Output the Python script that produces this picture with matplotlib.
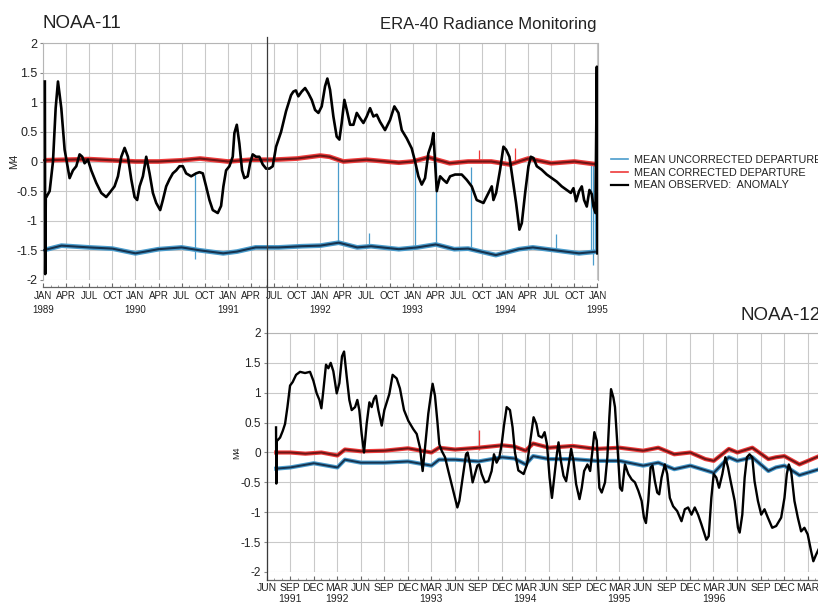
import numpy as np
import matplotlib
matplotlib.use('Agg')
import matplotlib.pyplot as plt
from matplotlib.lines import Line2D

plt.rcParams['font.family'] = ['Liberation Sans', 'DejaVu Sans']

# ---------------- NOAA-11 (top panel) ----------------
n11_anom_t = [1989.020, 1989.024, 1989.030, 1989.036, 1989.072, 1989.108, 1989.137, 1989.162, 1989.198, 1989.234,
              1989.288, 1989.324, 1989.360, 1989.396, 1989.425, 1989.450, 1989.486, 1989.522, 1989.576, 1989.630,
              1989.684, 1989.720, 1989.774, 1989.811, 1989.847, 1989.883, 1989.919, 1989.955, 1989.991, 1990.019,
              1990.045, 1990.081, 1990.117, 1990.153, 1990.189, 1990.225, 1990.268, 1990.297, 1990.333, 1990.369,
              1990.405, 1990.441, 1990.477, 1990.513, 1990.549, 1990.603, 1990.657, 1990.693, 1990.729, 1990.765,
              1990.801, 1990.837, 1990.891, 1990.927, 1990.952, 1990.981, 1991.017, 1991.053, 1991.071, 1991.097,
              1991.125, 1991.154, 1991.179, 1991.215, 1991.241, 1991.269, 1991.305, 1991.341, 1991.378, 1991.414,
              1991.450, 1991.486, 1991.522, 1991.576, 1991.630, 1991.684, 1991.709, 1991.736, 1991.763, 1991.799,
              1991.836, 1991.872, 1991.908, 1991.944, 1991.980, 1992.016, 1992.052, 1992.077, 1992.106, 1992.142,
              1992.178, 1992.207, 1992.232, 1992.261, 1992.287, 1992.323, 1992.359, 1992.395, 1992.431, 1992.467,
              1992.503, 1992.539, 1992.575, 1992.611, 1992.647, 1992.701, 1992.755, 1992.802, 1992.846, 1992.882,
              1992.936, 1992.990, 1993.026, 1993.062, 1993.098, 1993.134, 1993.170, 1993.206, 1993.224, 1993.261,
              1993.297, 1993.333, 1993.369, 1993.405, 1993.459, 1993.531, 1993.585, 1993.639, 1993.693, 1993.766,
              1993.820, 1993.856, 1993.874, 1993.903, 1993.946, 1993.982, 1994.011, 1994.047, 1994.083, 1994.119,
              1994.155, 1994.181, 1994.217, 1994.253, 1994.278, 1994.307, 1994.343, 1994.397, 1994.451, 1994.505,
              1994.559, 1994.613, 1994.667, 1994.711, 1994.740, 1994.768, 1994.801, 1994.830, 1994.855, 1994.884,
              1994.913, 1994.938, 1994.956, 1994.978, 1994.993, 1994.996, 1994.999]
n11_anom_v = [1.35, -1.90, -0.60, -0.60, -0.50, 0.00, 0.90, 1.35, 0.90, 0.20,
              -0.28, -0.15, -0.08, 0.12, 0.08, -0.03, 0.03, -0.15, -0.36, -0.53,
              -0.60, -0.53, -0.42, -0.25, 0.08, 0.23, 0.08, -0.30, -0.60, -0.65,
              -0.42, -0.25, 0.08, -0.20, -0.53, -0.70, -0.82, -0.65, -0.42, -0.30,
              -0.20, -0.15, -0.08, -0.08, -0.20, -0.25, -0.20, -0.18, -0.20, -0.42,
              -0.65, -0.82, -0.87, -0.75, -0.42, -0.15, -0.08, 0.08, 0.48, 0.62,
              0.30, -0.15, -0.28, -0.25, -0.03, 0.12, 0.08, 0.08, -0.05, -0.12,
              -0.12, -0.08, 0.25, 0.50, 0.85, 1.12, 1.18, 1.20, 1.10, 1.18,
              1.24, 1.15, 1.04, 0.87, 0.82, 0.93, 1.27, 1.40, 1.21, 0.76,
              0.42, 0.37, 0.65, 1.04, 0.87, 0.62, 0.62, 0.82, 0.73, 0.65,
              0.76, 0.90, 0.76, 0.79, 0.67, 0.53, 0.70, 0.93, 0.82, 0.53,
              0.39, 0.22, 0.00, -0.25, -0.39, -0.28, 0.14, 0.31, 0.48, -0.50,
              -0.25, -0.31, -0.36, -0.25, -0.22, -0.22, -0.31, -0.42, -0.65, -0.70,
              -0.53, -0.42, -0.65, -0.53, -0.14, 0.25, 0.20, 0.08, -0.31, -0.70,
              -1.15, -1.04, -0.53, -0.08, 0.08, 0.06, -0.08, -0.14, -0.22, -0.28,
              -0.34, -0.42, -0.48, -0.53, -0.45, -0.67, -0.50, -0.42, -0.65, -0.76,
              -0.48, -0.55, -0.76, -0.87, 1.60, 0.50, -1.55]

n11_unc_t = [1989.00, 1989.20, 1989.50, 1989.75, 1990.00, 1990.25, 1990.50, 1990.70, 1990.95, 1991.10,
             1991.30, 1991.55, 1991.80, 1992.00, 1992.20, 1992.40, 1992.55, 1992.85, 1993.05, 1993.25,
             1993.45, 1993.60, 1993.90, 1994.15, 1994.30, 1994.55, 1994.80, 1995.00]
n11_unc_v = [-1.50, -1.42, -1.45, -1.47, -1.55, -1.48, -1.45, -1.50, -1.55, -1.52,
             -1.45, -1.45, -1.43, -1.42, -1.37, -1.45, -1.43, -1.48, -1.45, -1.40,
             -1.48, -1.47, -1.58, -1.48, -1.45, -1.50, -1.55, -1.52]
n11_cor_t = [1989.00, 1989.25, 1989.50, 1989.75, 1990.00, 1990.25, 1990.50, 1990.70, 1991.00, 1991.25,
             1991.50, 1991.75, 1992.00, 1992.10, 1992.25, 1992.50, 1992.85, 1993.00, 1993.17, 1993.40,
             1993.60, 1993.85, 1994.05, 1994.25, 1994.50, 1994.75, 1995.00]
n11_cor_v = [0.02, 0.03, 0.04, 0.02, 0.00, 0.00, 0.02, 0.05, 0.00, 0.03,
             0.03, 0.05, 0.10, 0.08, 0.00, 0.03, -0.02, 0.00, 0.07, -0.03,
             0.00, 0.00, -0.05, 0.05, -0.03, 0.00, -0.05]
# spikes in the uncorrected / corrected departures
n11_unc_spike_t = [1990.64, 1992.19, 1992.53, 1993.03, 1993.25, 1993.63, 1994.55, 1994.93, 1994.95, 1994.97]
n11_unc_spike_lo = [-1.65, -1.40, -1.45, -1.45, -1.40, -1.47, -1.50, -1.50, -1.75, -1.50]
n11_unc_spike_hi = [-0.20, 0.00, -1.20, 0.00, 0.00, -0.10, -1.22, 0.00, -0.05, -0.05]
n11_cor_spike_t = [1993.72, 1994.11]
n11_cor_spike_lo = [0.00, 0.00]
n11_cor_spike_hi = [0.20, 0.22]

# ---------------- NOAA-12 (bottom panel) ----------------
n12_anom_t = [1991.518, 1991.521, 1991.525, 1991.532, 1991.561, 1991.589, 1991.614, 1991.639, 1991.667, 1991.695,
              1991.731, 1991.773, 1991.826, 1991.879, 1991.915, 1991.950, 1991.979, 1992.000, 1992.021, 1992.049,
              1992.074, 1992.099, 1992.127, 1992.163, 1992.191, 1992.219, 1992.241, 1992.269, 1992.297, 1992.322,
              1992.358, 1992.382, 1992.403, 1992.428, 1992.453, 1992.481, 1992.510, 1992.534, 1992.559, 1992.580,
              1992.605, 1992.641, 1992.669, 1992.694, 1992.722, 1992.757, 1992.800, 1992.835, 1992.878, 1992.924,
              1992.977, 1993.013, 1993.048, 1993.076, 1993.101, 1993.136, 1993.165, 1993.182, 1993.207, 1993.232,
              1993.253, 1993.278, 1993.314, 1993.349, 1993.384, 1993.420, 1993.445, 1993.466, 1993.501, 1993.537,
              1993.554, 1993.579, 1993.607, 1993.632, 1993.657, 1993.678, 1993.703, 1993.738, 1993.774, 1993.809,
              1993.834, 1993.862, 1993.891, 1993.916, 1993.940, 1993.969, 1994.004, 1994.032, 1994.057, 1994.093,
              1994.149, 1994.185, 1994.220, 1994.255, 1994.284, 1994.308, 1994.344, 1994.372, 1994.397, 1994.425,
              1994.450, 1994.474, 1994.502, 1994.520, 1994.545, 1994.573, 1994.601, 1994.626, 1994.654, 1994.679,
              1994.707, 1994.743, 1994.767, 1994.792, 1994.827, 1994.856, 1994.884, 1994.901, 1994.926, 1994.954,
              1994.979, 1995.014, 1995.039, 1995.060, 1995.078, 1995.103, 1995.120, 1995.145, 1995.173, 1995.195,
              1995.226, 1995.262, 1995.297, 1995.332, 1995.368, 1995.403, 1995.428, 1995.449, 1995.474, 1995.498,
              1995.519, 1995.544, 1995.569, 1995.590, 1995.615, 1995.650, 1995.675, 1995.703, 1995.738, 1995.781,
              1995.827, 1995.862, 1995.897, 1995.933, 1995.968, 1996.003, 1996.038, 1996.063, 1996.091, 1996.116,
              1996.144, 1996.169, 1996.197, 1996.226, 1996.261, 1996.293, 1996.321, 1996.349, 1996.392, 1996.427,
              1996.445, 1996.473, 1996.498, 1996.522, 1996.550, 1996.579, 1996.603, 1996.639, 1996.674, 1996.709,
              1996.745, 1996.791, 1996.833, 1996.886, 1996.921, 1996.946, 1996.967, 1996.992, 1997.027, 1997.063,
              1997.098, 1997.133, 1997.168, 1997.204, 1997.228, 1997.257, 1997.290]
n12_anom_v = [0.42, -0.52, 0.20, 0.20, 0.25, 0.36, 0.48, 0.76, 1.12, 1.18,
              1.30, 1.35, 1.33, 1.35, 1.20, 0.99, 0.88, 0.74, 1.04, 1.47,
              1.41, 1.50, 1.36, 0.99, 1.16, 1.61, 1.69, 1.27, 0.88, 0.71,
              0.76, 0.88, 0.71, 0.31, 0.00, 0.48, 0.84, 0.76, 0.90, 0.95,
              0.71, 0.45, 0.71, 0.84, 0.98, 1.30, 1.24, 1.07, 0.71, 0.53,
              0.39, 0.31, 0.08, -0.31, 0.08, 0.65, 0.98, 1.15, 0.95, 0.53,
              0.14, 0.03, -0.08, -0.31, -0.53, -0.76, -0.92, -0.81, -0.42, -0.03,
              0.00, -0.20, -0.50, -0.36, -0.22, -0.20, -0.36, -0.50, -0.48, -0.31,
              -0.03, -0.17, -0.08, 0.14, 0.45, 0.76, 0.71, 0.42, 0.00, -0.30,
              -0.36, -0.20, 0.20, 0.59, 0.48, 0.28, 0.25, 0.34, 0.14, -0.42,
              -0.76, -0.42, -0.03, 0.17, -0.14, -0.39, -0.48, -0.22, 0.06, -0.14,
              -0.53, -0.78, -0.59, -0.31, -0.20, -0.31, 0.08, 0.34, 0.20, -0.59,
              -0.67, -0.50, -0.08, 0.59, 1.06, 0.92, 0.76, 0.14, -0.59, -0.64,
              -0.20, -0.36, -0.45, -0.50, -0.64, -0.81, -1.09, -1.18, -0.81, -0.25,
              -0.22, -0.48, -0.67, -0.70, -0.42, -0.20, -0.36, -0.76, -0.90, -0.98,
              -1.15, -0.95, -0.92, -1.04, -0.92, -1.04, -1.20, -1.32, -1.46, -1.40,
              -0.76, -0.36, -0.42, -0.59, -0.36, -0.08, -0.25, -0.48, -0.81, -1.26,
              -1.34, -1.04, -0.42, -0.08, -0.03, -0.08, -0.48, -0.81, -1.04, -0.95,
              -1.09, -1.26, -1.23, -1.09, -0.76, -0.36, -0.20, -0.31, -0.81, -1.09,
              -1.32, -1.26, -1.37, -1.65, -1.82, -1.71, -1.60]

n12_unc_t = [1991.52, 1991.67, 1991.92, 1992.17, 1992.25, 1992.42, 1992.67, 1992.92, 1993.17, 1993.25,
             1993.42, 1993.67, 1993.92, 1994.05, 1994.17, 1994.25, 1994.42, 1994.67, 1994.92, 1995.17,
             1995.42, 1995.58, 1995.75, 1995.92, 1996.17, 1996.33, 1996.42, 1996.58, 1996.75, 1996.83,
             1996.92, 1997.08, 1997.29]
n12_unc_v = [-0.27, -0.25, -0.18, -0.25, -0.12, -0.17, -0.17, -0.15, -0.22, -0.12,
             -0.12, -0.15, -0.08, -0.10, -0.20, -0.06, -0.11, -0.11, -0.14, -0.14,
             -0.22, -0.17, -0.28, -0.22, -0.34, -0.08, -0.14, -0.08, -0.31, -0.25,
             -0.22, -0.38, -0.28]
n12_cor_t = [1991.52, 1991.67, 1991.83, 1992.00, 1992.17, 1992.25, 1992.42, 1992.67, 1992.92, 1993.17,
             1993.25, 1993.42, 1993.67, 1993.92, 1994.05, 1994.17, 1994.25, 1994.42, 1994.67, 1994.92,
             1995.17, 1995.42, 1995.58, 1995.75, 1995.92, 1996.08, 1996.17, 1996.33, 1996.42, 1996.58,
             1996.75, 1996.83, 1996.92, 1997.08, 1997.29]
n12_cor_v = [0.00, 0.00, -0.02, 0.00, -0.05, 0.05, 0.02, 0.03, 0.07, 0.00,
             0.08, 0.05, 0.08, 0.12, 0.10, 0.03, 0.15, 0.08, 0.11, 0.06,
             0.08, 0.03, 0.08, -0.03, 0.00, -0.11, -0.14, 0.06, 0.00, 0.08,
             -0.11, -0.08, -0.06, -0.20, -0.06]
n12_cor_spike_t = [1993.67]
n12_cor_spike_lo = [0.05]
n12_cor_spike_hi = [0.38]

legend_labels = ['MEAN UNCORRECTED DEPARTURE', 'MEAN CORRECTED DEPARTURE', 'MEAN OBSERVED:  ANOMALY']
y_ticks = [2, 1.5, 1, 0.5, 0, -0.5, -1, -1.5, -2]
y_ticklabels = ['2', '1.5', '1', '0.5', '0', '-0.5', '-1', '-1.5', '-2']

# ---------------- styling ----------------
LB, DB = '#4a9ccc', '#16334f'
LR, DR = '#ee3a3a', '#6e1616'
GRID = '#c9c9c9'
TXT = '#222222'

W, H = 818, 604
fig = plt.figure(figsize=(W / 100, H / 100), dpi=100)


def rect(l, t, r, b):
    return [l / W, 1 - b / H, (r - l) / W, (b - t) / H]


def month_ticks(start_year, start_month, n, step, year_at):
    names = ['JAN', 'FEB', 'MAR', 'APR', 'MAY', 'JUN', 'JUL', 'AUG', 'SEP', 'OCT', 'NOV', 'DEC']
    pos, labs = [], []
    y, m = start_year, start_month
    for _ in range(n):
        pos.append(y + (m - 1) / 12)
        lab = names[m - 1]
        if (y, m) in year_at:
            lab += '\n' + str(y)
        labs.append(lab)
        m += step
        while m > 12:
            m -= 12
            y += 1
    return pos, labs


def style(ax, xlim, ticks, labels, minor, ytick_fs, xtick_fs, spine_off, lsp, xpad):
    ax.set_xlim(*xlim)
    ax.set_ylim(-2, 2)
    ax.grid(True, which='major', color=GRID, lw=0.8)
    ax.set_axisbelow(True)
    for s in ['top', 'right', 'left']:
        ax.spines[s].set_color('#b5b5b5')
        ax.spines[s].set_linewidth(0.8)
    ax.spines['bottom'].set_position(('outward', spine_off))
    ax.spines['bottom'].set_color('#666666')
    ax.spines['bottom'].set_linewidth(0.9)
    ax.tick_params(axis='x', which='major', direction='in', length=3, color='#666666', pad=xpad,
                   labelsize=xtick_fs, labelcolor=TXT)
    ax.tick_params(axis='x', which='minor', direction='in', length=1.5, color='#888888')
    ax.tick_params(axis='y', direction='out', length=2, color='#888888', pad=2,
                   labelsize=ytick_fs, labelcolor=TXT)
    ax.set_yticks(y_ticks)
    ax.set_yticklabels(y_ticklabels, fontsize=ytick_fs, color=TXT)
    ax.set_xticks(minor, minor=True)
    ax.set_xticks(ticks)
    ax.set_xticklabels(labels, fontsize=xtick_fs, color=TXT, linespacing=lsp)


# top panel
ax1 = fig.add_axes(rect(43, 43, 597.5, 280))
t1, l1 = month_ticks(1989, 1, 25, 3, {(yy, 1) for yy in range(1989, 1996)})
m1 = [1989 + k / 12 for k in range(73)]
style(ax1, (1989, 1995), t1, l1, m1, 9, 7, 5, 1.45, 3)
ax1.set_ylabel('M4', fontsize=8, color=TXT)
ax1.yaxis.set_label_coords(-0.043, 0.5)

ax1.plot(n11_unc_t, n11_unc_v, color=LB, lw=3.4, solid_joinstyle='round', zorder=2)
ax1.plot(n11_unc_t, n11_unc_v, color=DB, lw=1.5, zorder=3)
ax1.vlines(n11_unc_spike_t, n11_unc_spike_lo, n11_unc_spike_hi, color=LB, lw=0.9, zorder=2)
ax1.plot(n11_cor_t, n11_cor_v, color=LR, lw=3.4, zorder=2)
ax1.plot(n11_cor_t, n11_cor_v, color=DR, lw=1.5, zorder=3)
ax1.vlines(n11_cor_spike_t, n11_cor_spike_lo, n11_cor_spike_hi, color=LR, lw=0.9, zorder=2)
ax1.plot(n11_anom_t, n11_anom_v, color='black', lw=1.9, zorder=4)

# bottom panel
x2_end = 1997.6
ax2 = fig.add_axes(rect(266.5, 333, 266.5 + (x2_end - 1991 - 5 / 12) * 94.1, 572))
yr2 = {(1991, 9)} | {(yy, 3) for yy in range(1992, 1997)}
t2, l2 = month_ticks(1991, 6, 25, 3, yr2)
m2 = [1991 + 5 / 12 + k / 12 for k in range(75)]
style(ax2, (1991 + 5 / 12, x2_end), t2, l2, m2, 8.5, 7.5, 6, 1.05, 2)
ax2.set_ylabel('M4', fontsize=6.5, color=TXT)
ax2.yaxis.set_label_coords(-0.043, 0.5)

ax2.plot(n12_unc_t, n12_unc_v, color=LB, lw=3.0, zorder=2)
ax2.plot(n12_unc_t, n12_unc_v, color=DB, lw=1.4, zorder=3)
ax2.plot(n12_cor_t, n12_cor_v, color=LR, lw=3.0, zorder=2)
ax2.plot(n12_cor_t, n12_cor_v, color=DR, lw=1.4, zorder=3)
ax2.vlines(n12_cor_spike_t, n12_cor_spike_lo, n12_cor_spike_hi, color=LR, lw=0.9, zorder=2)
ax2.plot(n12_anom_t, n12_anom_v, color='black', lw=1.7, zorder=4)

# titles
fig.text(43 / W, 1 - 24 / H, 'NOAA-11', fontsize=13.5, color=TXT, ha='left', va='center')
fig.text(597 / W, 1 - 25 / H, 'ERA-40 Radiance Monitoring', fontsize=12, color=TXT, ha='right', va='center')
fig.text(741 / W, 1 - 315 / H, 'NOAA-12', fontsize=13.5, color=TXT, ha='left', va='center')

# legend
handles = [Line2D([], [], color=LB, lw=1.2), Line2D([], [], color=LR, lw=1.2), Line2D([], [], color='black', lw=1.6)]
fig.legend(handles, legend_labels, loc='upper left', bbox_to_anchor=(611 / W, 1 - 155 / H),
           frameon=False, fontsize=7.8, handlelength=1.6, handletextpad=0.5, labelspacing=0.25,
           borderpad=0, borderaxespad=0, labelcolor=TXT)

# border of the inset picture
fig.add_artist(Line2D([267 / W, 267 / W], [1 - 37 / H, 1 - 580 / H], color='#3a3a3a', lw=0.9))

fig.savefig('out.png', dpi=100)
